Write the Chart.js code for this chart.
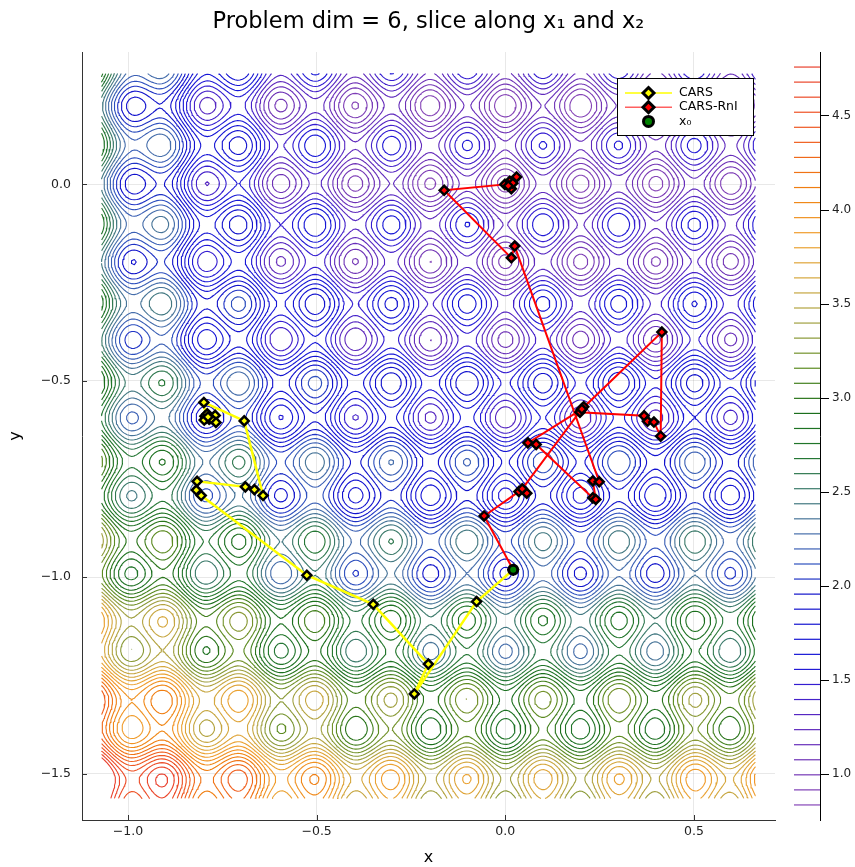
<!DOCTYPE html>
<html>
<head>
<meta charset="utf-8">
<script src="https://cdn.jsdelivr.net/npm/chart.js@4.4.1/dist/chart.umd.min.js"></script>
<style>
  html, body { margin: 0; padding: 0; background: #fff; }
  #fig { position: relative; width: 855px; height: 867px; }
  #fig canvas { position: absolute; left: 0; top: 0; }
</style>
</head>
<body>
<div id="fig">
  <canvas id="plot" width="855" height="867"></canvas>
  <canvas id="cbar" width="855" height="867"></canvas>
</div>
<script>
Chart.defaults.font.family = "'DejaVu Sans', 'Liberation Sans', sans-serif";
Chart.defaults.color = '#222';

// window of the (x1, x2) slice that gets evaluated
const sliceX = [-1.07, 0.663];
const sliceY = [-1.563, 0.282];
const gridN = [261, 278];

// axes
const xLimits = [-1.122, 0.715];
const yLimits = [-1.618, 0.337];
const xTicks = [-1.0, -0.5, 0.0, 0.5];
const yTicks = [-1.5, -1.0, -0.5, 0.0];

// colour bar / contour levels
const zLimits = [0.757, 4.84];
const nLevels = 50;
const zTicks = [1.0, 1.5, 2.0, 2.5, 3.0, 3.5, 4.0, 4.5];

// colour map anchors (value -> colour)
const cmapValues = [0.757, 1.05, 1.3, 1.45, 1.6, 1.95, 2.1, 2.3, 2.5, 2.7, 2.95, 3.15, 3.4, 3.6, 3.85, 4.1, 4.4, 4.84];
const cmapColors = ['#8e4cb8', '#7033b5', '#5a28c0', '#3a1ed0', '#1818d8', '#1010cc', '#2a4cc0', '#4a72a8', '#3e7a70',
                    '#22772e', '#1a6e1a', '#5a8a20', '#a0a040', '#d0a840', '#f0a030', '#f08010', '#f05a20', '#e83a30'];

// iterates, both runs start at x0
const carsX = [0.021, -0.076, -0.241, -0.204, -0.350, -0.526, -0.806, -0.819, -0.817, -0.689, -0.665, -0.642,
               -0.692, -0.799, -0.793, -0.769, -0.767, -0.785, -0.796, -0.790, -0.780, -0.798, -0.788];
const carsY = [-0.981, -1.062, -1.297, -1.221, -1.069, -0.995, -0.792, -0.778, -0.756, -0.770, -0.777, -0.792,
               -0.602, -0.555, -0.595, -0.588, -0.606, -0.598, -0.590, -0.584, -0.596, -0.600, -0.592];
const rniX = [0.021, -0.056, 0.036, 0.057, 0.045, 0.201, 0.208, 0.198, 0.368, 0.377, 0.394, 0.412, 0.415, 0.203,
              0.060, 0.082, 0.232, 0.240, 0.232, 0.249, 0.025, 0.016, -0.162, -0.001, 0.012, 0.030, 0.016, 0.020, 0.008];
const rniY = [-0.981, -0.844, -0.782, -0.786, -0.775, -0.574, -0.566, -0.580, -0.589, -0.603, -0.605, -0.641, -0.376, -0.572,
              -0.658, -0.662, -0.798, -0.802, -0.755, -0.757, -0.157, -0.187, -0.015, 0.000, 0.008, 0.019, -0.011, 0.003, -0.004];
const startX = [0.021];
const startY = [-0.981];

// objective restricted to the slice: a valley that steepens downwards and to the left,
// plus cosine ripples of period 0.2 in both directions
function objective(x, y) {
  const floor = 1.16 + 0.76 * (y - 0.2) ** 2;
  const d = x - (0.14 + 0.03 * y);
  const quad = 0.05 + 0.56 * (0.2 - y);
  const quart = Math.max(0, 0.5 * (y + 1.0));
  const ripple = 0.2 * (Math.cos(10 * Math.PI * x) + Math.cos(10 * Math.PI * y));
  return floor + quad * d * d + quart * d ** 4 - ripple;
}

function hexRgb(h) {
  return [parseInt(h.slice(1, 3), 16), parseInt(h.slice(3, 5), 16), parseInt(h.slice(5, 7), 16)];
}
function levelColor(v) {
  let k = 0;
  while (k < cmapValues.length - 2 && v > cmapValues[k + 1]) k++;
  const t = Math.min(1, Math.max(0, (v - cmapValues[k]) / (cmapValues[k + 1] - cmapValues[k])));
  const a = hexRgb(cmapColors[k]), b = hexRgb(cmapColors[k + 1]);
  const c = a.map((ch, i) => Math.round(ch + t * (b[i] - ch)));
  return `rgb(${c[0]},${c[1]},${c[2]})`;
}

const levels = [];
for (let k = 1; k <= nLevels; k++) levels.push(zLimits[0] + k * (zLimits[1] - zLimits[0]) / (nLevels + 1));

// sample the slice
const [nx, ny] = gridN;
const xs = [], ys = [];
for (let i = 0; i < nx; i++) xs.push(sliceX[0] + i * (sliceX[1] - sliceX[0]) / (nx - 1));
for (let j = 0; j < ny; j++) ys.push(sliceY[0] + j * (sliceY[1] - sliceY[0]) / (ny - 1));
const F = new Float64Array(nx * ny);
for (let j = 0; j < ny; j++) for (let i = 0; i < nx; i++) F[j * nx + i] = objective(xs[i], ys[j]);

// marching squares; edges: 0 bottom, 1 right, 2 top, 3 left
const CASES = [[], [[3, 0]], [[0, 1]], [[3, 1]], [[1, 2]], null, [[0, 2]], [[3, 2]],
               [[2, 3]], [[0, 2]], null, [[1, 2]], [[3, 1]], [[0, 1]], [[3, 0]], []];

function traceLevel(L) {
  const NH = nx * ny;
  const segs = [];
  const adj = new Map();
  const link = (key, s) => { const l = adj.get(key); if (l) l.push(s); else adj.set(key, [s]); };
  for (let j = 0; j < ny - 1; j++) {
    for (let i = 0; i < nx - 1; i++) {
      const fa = F[j * nx + i], fb = F[j * nx + i + 1], fc = F[(j + 1) * nx + i + 1], fd = F[(j + 1) * nx + i];
      const idx = (fa >= L ? 1 : 0) | (fb >= L ? 2 : 0) | (fc >= L ? 4 : 0) | (fd >= L ? 8 : 0);
      if (idx === 0 || idx === 15) continue;
      let pairs = CASES[idx];
      if (!pairs) {
        const mid = (fa + fb + fc + fd) / 4 >= L;
        if (idx === 5) pairs = mid ? [[0, 1], [2, 3]] : [[3, 0], [1, 2]];
        else pairs = mid ? [[3, 0], [1, 2]] : [[0, 1], [2, 3]];
      }
      const keys = [j * nx + i, NH + j * nx + i + 1, (j + 1) * nx + i, NH + j * nx + i];
      for (const [e0, e1] of pairs) {
        const s = segs.length;
        segs.push([keys[e0], keys[e1]]);
        link(keys[e0], s); link(keys[e1], s);
      }
    }
  }
  const edgePoint = (key) => {
    if (key < NH) {
      const j = Math.floor(key / nx), i = key % nx;
      const f0 = F[key], f1 = F[key + 1];
      const t = (L - f0) / (f1 - f0);
      return { x: xs[i] + t * (xs[i + 1] - xs[i]), y: ys[j] };
    }
    const k = key - NH, j = Math.floor(k / nx), i = k % nx;
    const f0 = F[k], f1 = F[k + nx];
    const t = (L - f0) / (f1 - f0);
    return { x: xs[i], y: ys[j] + t * (ys[j + 1] - ys[j]) };
  };
  const used = new Uint8Array(segs.length);
  const walk = (key) => {
    const out = [];
    for (;;) {
      const l = adj.get(key);
      let nxt = -1;
      for (const s of l) if (!used[s]) { nxt = s; break; }
      if (nxt < 0) break;
      used[nxt] = 1;
      key = segs[nxt][0] === key ? segs[nxt][1] : segs[nxt][0];
      out.push(key);
    }
    return out;
  };
  const pts = [];
  for (let s = 0; s < segs.length; s++) {
    if (used[s]) continue;
    used[s] = 1;
    const fwd = walk(segs[s][1]);
    const back = walk(segs[s][0]).reverse();
    const chain = back.concat([segs[s][0], segs[s][1]], fwd);
    for (const key of chain) pts.push(edgePoint(key));
    pts.push({ x: NaN, y: NaN });
  }
  return pts;
}

const datasets = levels.map(L => ({
  data: traceLevel(L),
  showLine: true,
  borderColor: levelColor(L),
  borderWidth: 1.1,
  borderJoinStyle: 'round',
  pointRadius: 0,
  spanGaps: false,
  order: 10
}));

const zip = (xv, yv) => xv.map((x, i) => ({ x, y: yv[i] }));
datasets.push({
  label: 'CARS', data: zip(carsX, carsY), showLine: true,
  borderColor: '#ffff00', borderWidth: 2.5,
  pointStyle: 'rectRot', pointRadius: 4.5, pointBorderWidth: 2.5,
  pointBackgroundColor: '#ffff00', pointBorderColor: '#000', order: 3
});
datasets.push({
  label: 'CARS-RnI', data: zip(rniX, rniY), showLine: true,
  borderColor: '#ff0000', borderWidth: 2,
  pointStyle: 'rectRot', pointRadius: 4.5, pointBorderWidth: 2.5,
  pointBackgroundColor: '#ff0000', pointBorderColor: '#000', order: 2
});
datasets.push({
  label: 'x₀', data: zip(startX, startY), showLine: false,
  pointStyle: 'circle', pointRadius: 4.5, pointBorderWidth: 3,
  pointBackgroundColor: '#008000', pointBorderColor: '#000', order: 1
});

const fmt = v => (v < 0 ? '\u2212' : '') + Math.abs(v).toFixed(1);

// short tick marks pointing into the plot
const innerTicks = {
  id: 'innerTicks',
  beforeDatasetsDraw(chart) {
    const { ctx, chartArea: a, scales: { x, y } } = chart;
    ctx.save();
    ctx.strokeStyle = '#333';
    ctx.lineWidth = 1;
    ctx.beginPath();
    for (const v of xTicks) {
      const px = Math.round(x.getPixelForValue(v)) + 0.5;
      ctx.moveTo(px, a.bottom); ctx.lineTo(px, a.bottom - 5);
    }
    for (const v of yTicks) {
      const py = Math.round(y.getPixelForValue(v)) + 0.5;
      ctx.moveTo(a.left, py); ctx.lineTo(a.left + 5, py);
    }
    ctx.stroke();
    ctx.restore();
  }
};

function drawDiamond(ctx, x, y, r, fill) {
  ctx.beginPath();
  ctx.moveTo(x, y - r); ctx.lineTo(x + r, y); ctx.lineTo(x, y + r); ctx.lineTo(x - r, y);
  ctx.closePath();
  ctx.fillStyle = fill; ctx.fill();
  ctx.lineWidth = 3; ctx.strokeStyle = '#000'; ctx.stroke();
}

// framed legend in the upper right corner of the plot
const legendBox = {
  id: 'legendBox',
  afterDraw(chart) {
    const { ctx, chartArea: a } = chart;
    const right = a.right - 22, top = a.top + 26, w = 136, h = 57;
    const left = right - w;
    ctx.save();
    ctx.fillStyle = '#fff';
    ctx.fillRect(left, top, w, h);
    ctx.strokeStyle = '#000'; ctx.lineWidth = 1;
    ctx.strokeRect(Math.round(left) + 0.5, Math.round(top) + 0.5, w, h);
    const rows = [
      { text: 'CARS', line: '#ffff00', fill: '#ffff00', shape: 'diamond' },
      { text: 'CARS-RnI', line: '#ff6060', fill: '#ff0000', shape: 'diamond' },
      { text: 'x₀', line: null, fill: '#008000', shape: 'circle' }
    ];
    rows.forEach((r, k) => {
      const cy = top + 15 + k * 14.2;
      if (r.line) {
        ctx.strokeStyle = r.line; ctx.lineWidth = 1.5;
        ctx.beginPath(); ctx.moveTo(left + 8, cy); ctx.lineTo(left + 55, cy); ctx.stroke();
      }
      if (r.shape === 'diamond') drawDiamond(ctx, left + 31.5, cy, 5.5, r.fill);
      else {
        ctx.beginPath(); ctx.arc(left + 31.5, cy, 5, 0, Math.PI * 2);
        ctx.fillStyle = r.fill; ctx.fill();
        ctx.lineWidth = 3; ctx.strokeStyle = '#000'; ctx.stroke();
      }
      ctx.fillStyle = '#000';
      ctx.font = "12.5px 'DejaVu Sans', sans-serif";
      ctx.textBaseline = 'middle';
      ctx.fillText(r.text, left + 62, cy);
    });
    ctx.restore();
  }
};

new Chart(document.getElementById('plot'), {
  type: 'scatter',
  data: { datasets },
  options: {
    responsive: false, animation: false, devicePixelRatio: 1, events: [],
    layout: { padding: { left: 0, right: 80, top: 0, bottom: 0 } },
    plugins: {
      legend: { display: false },
      tooltip: { enabled: false },
      title: {
        display: true, fullSize: false,
        text: 'Problem dim = 6, slice along x₁ and x₂',
        color: '#000', font: { size: 22.5, weight: 'normal' },
        padding: { top: 8.5, bottom: 16.5 }
      }
    },
    scales: {
      x: {
        type: 'linear', min: xLimits[0], max: xLimits[1],
        afterFit: s => { s.height = 47; },
        afterBuildTicks: s => { s.ticks = xTicks.map(v => ({ value: v })); },
        grid: { color: 'rgba(0,0,0,0.09)', drawTicks: false },
        border: { color: '#333', width: 1 },
        ticks: { padding: 4, font: { size: 12.5 }, color: '#222', callback: fmt, maxRotation: 0 },
        title: { display: true, text: 'x', color: '#000', font: { size: 16 }, padding: { top: 0, bottom: 0 } }
      },
      y: {
        type: 'linear', min: yLimits[0], max: yLimits[1],
        afterFit: s => { s.width = 82; },
        afterBuildTicks: s => { s.ticks = yTicks.map(v => ({ value: v })); },
        grid: { color: 'rgba(0,0,0,0.09)', drawTicks: false },
        border: { color: '#333', width: 1 },
        ticks: { padding: 11, font: { size: 12.5 }, color: '#222', callback: fmt },
        title: { display: true, text: 'y', color: '#000', font: { size: 16 }, padding: { top: 6, bottom: 0 } }
      }
    }
  },
  plugins: [innerTicks, legendBox]
});

// colour bar: one short line per contour level on its own value axis
const barSets = levels.map(L => ({
  data: [{ x: 0, y: L }, { x: 1, y: L }],
  showLine: true, borderColor: levelColor(L), borderWidth: 1.2, pointRadius: 0
}));
new Chart(document.getElementById('cbar'), {
  type: 'scatter',
  data: { datasets: barSets },
  options: {
    responsive: false, animation: false, devicePixelRatio: 1, events: [],
    layout: { padding: { left: 794, right: 0, top: 52, bottom: 47 } },
    plugins: { legend: { display: false }, tooltip: { enabled: false } },
    scales: {
      x: { type: 'linear', display: false, min: 0, max: 1 },
      y: {
        type: 'linear', position: 'right', min: zLimits[0], max: zLimits[1],
        afterFit: s => { s.width = 35; },
        afterBuildTicks: s => { s.ticks = zTicks.map(v => ({ value: v })); },
        grid: { drawOnChartArea: false, drawTicks: true, tickLength: 9, tickColor: '#000' },
        border: { color: '#000', width: 1 },
        ticks: { padding: 3, font: { size: 12 }, color: '#222', callback: v => v.toFixed(1) }
      }
    }
  }
});
</script>
</body>
</html>
